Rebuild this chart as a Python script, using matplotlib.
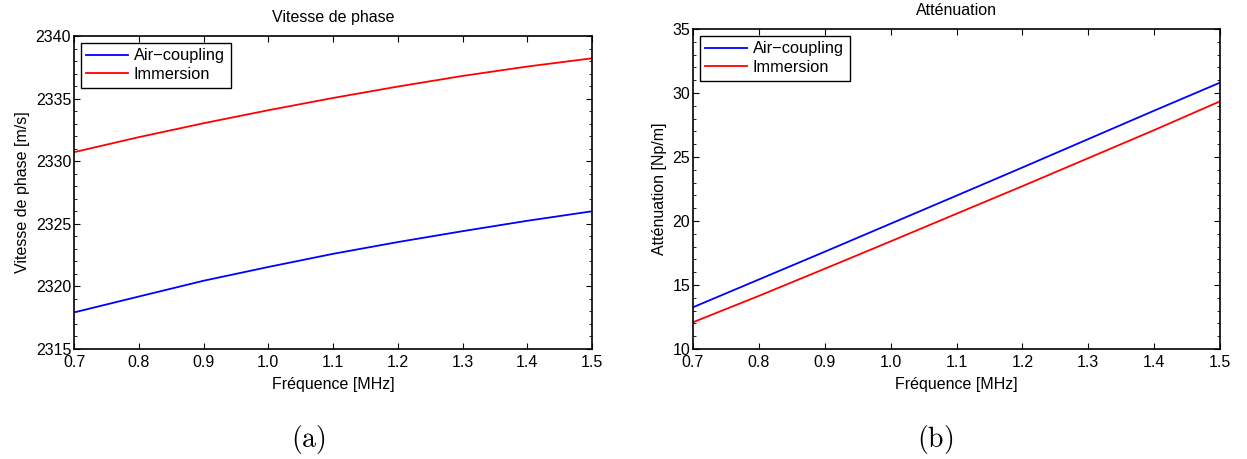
import numpy as np
import matplotlib
matplotlib.use("Agg")
import matplotlib.pyplot as plt
from matplotlib.ticker import MultipleLocator, FormatStrFormatter

plt.rcParams['font.family'] = ['Liberation Sans', 'DejaVu Sans']
plt.rcParams['mathtext.fontset'] = 'cm'

# Frequency grid (MHz), read at the major ticks
freq = [0.7, 0.8, 0.9, 1.0, 1.1, 1.2, 1.3, 1.4, 1.5]

# (a) phase velocity [m/s]
vit_air = [2317.92, 2319.19, 2320.45, 2321.55, 2322.6, 2323.54, 2324.41, 2325.24, 2326.0]
vit_imm = [2330.72, 2331.92, 2333.03, 2334.07, 2335.05, 2335.96, 2336.81, 2337.56, 2338.22]

# (b) attenuation [Np/m]
att_air = [13.26, 15.43, 17.6, 19.79, 21.98, 24.18, 26.4, 28.62, 30.81]
att_imm = [12.09, 14.15, 16.27, 18.41, 20.57, 22.72, 24.91, 27.1, 29.35]

labels = ['Air\u2212coupling', 'Immersion']

fig = plt.figure(figsize=(12.47, 4.59), dpi=100)
W, H = 1247.0, 459.0


def setup(ax, ylim, title, ylabel):
    ax.set_xlim(0.7, 1.5)
    ax.set_ylim(*ylim)
    ax.xaxis.set_major_locator(MultipleLocator(0.1))
    ax.xaxis.set_major_formatter(FormatStrFormatter('%.1f'))
    ax.yaxis.set_major_locator(MultipleLocator(5))
    ax.yaxis.set_minor_locator(MultipleLocator(1))
    ax.tick_params(which='both', direction='in', top=True, right=True, labelsize=11.5)
    ax.tick_params(axis='x', pad=4)
    ax.tick_params(axis='y', pad=2)
    ax.tick_params(which='major', length=4)
    ax.tick_params(which='minor', length=2)
    for s in ax.spines.values():
        s.set_linewidth(1.2)
    ax.set_title(title, fontsize=11.5, pad=10)
    ax.set_xlabel('Fréquence [MHz]', fontsize=11.5, labelpad=5)
    ax.set_ylabel(ylabel, fontsize=11.5, labelpad=4)
    leg = ax.legend(loc='upper left', fontsize=11.8, fancybox=False, framealpha=1,
                    borderaxespad=0.4, handlelength=2.55, handletextpad=0.35,
                    borderpad=0.35, labelspacing=0.22)
    leg.get_frame().set_edgecolor('black')
    leg.get_frame().set_linewidth(1.0)


ax1 = fig.add_axes([74 / W, 1 - 349 / H, (592 - 74) / W, (349 - 36) / H])
ax1.plot(freq, vit_air, color='#0000ff', lw=1.3, label=labels[0])
ax1.plot(freq, vit_imm, color='#ff0000', lw=1.3, label=labels[1])
setup(ax1, (2315, 2340), 'Vitesse de phase', 'Vitesse de phase [m/s]')

ax2 = fig.add_axes([693 / W, 1 - 349 / H, (1220 - 693) / W, (349 - 29) / H])
ax2.plot(freq, att_air, color='#0000ff', lw=1.3, label=labels[0])
ax2.plot(freq, att_imm, color='#ff0000', lw=1.3, label=labels[1])
setup(ax2, (10, 35), 'Atténuation', 'Atténuation [Np/m]')

fig.text(308 / W, 1 - 440 / H, r'$\mathrm{(a)}$', fontsize=20, ha='center', va='center')
fig.text(935 / W, 1 - 440 / H, r'$\mathrm{(b)}$', fontsize=20, ha='center', va='center')

fig.savefig('out.png', dpi=100)
